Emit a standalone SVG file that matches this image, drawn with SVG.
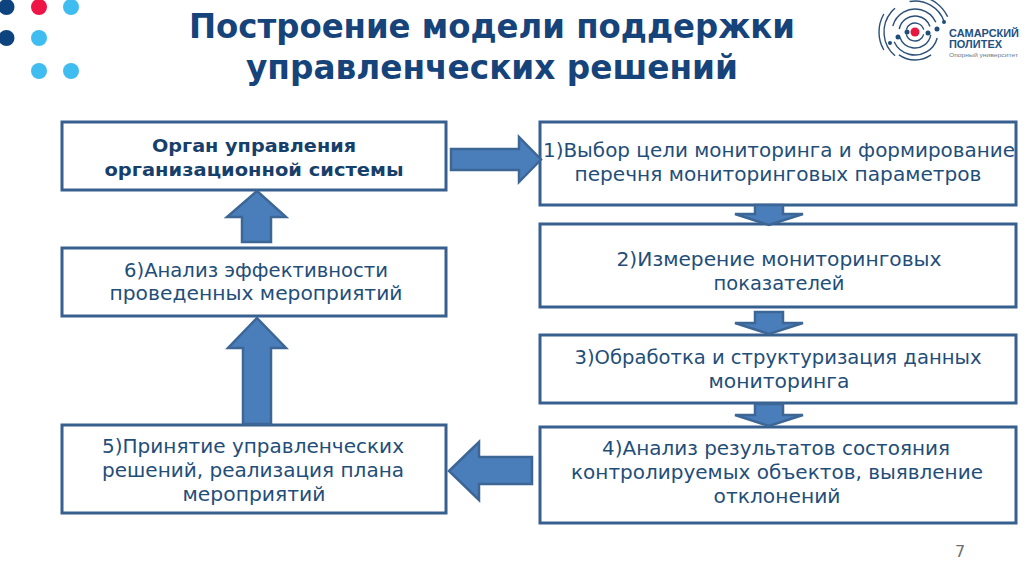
<svg xmlns="http://www.w3.org/2000/svg" width="1024" height="574" viewBox="0 0 1024 574">
<style>
text{font-family:"DejaVu Sans","Noto Sans",sans-serif;text-anchor:middle}
.t{font-size:34px;font-weight:700;fill:#15437a}
.l{font-size:19px;fill:#1f4e79}
.b{font-size:18.5px;font-weight:700;fill:#173f6b}
.box{fill:#fff;stroke:#37608f;stroke-width:3}
.arr{fill:#4a7ebb;stroke:#3c6695;stroke-width:2.5;stroke-linejoin:miter}
.arc{fill:none;stroke:#2c4f78;stroke-width:1.4}
.lg{font-family:"Liberation Sans",sans-serif;font-size:10px;font-weight:700;fill:#24507f;text-anchor:start}
</style>
<rect width="1024" height="574" fill="#fff"/>
<g id="decor">
<circle cx="6.500" cy="7" r="8" fill="#0d437f"/><circle cx="39" cy="7" r="8" fill="#ee1546"/><circle cx="71" cy="7" r="8" fill="#3fbdf1"/>
<circle cx="6.500" cy="38" r="8" fill="#0d437f"/><circle cx="39" cy="38" r="8" fill="#3fbdf1"/>
<circle cx="39" cy="71" r="8" fill="#3fbdf1"/><circle cx="71" cy="71" r="8" fill="#3fbdf1"/>
</g>
<g id="title">
<text class="t" x="492" y="38" textLength="606" lengthAdjust="spacingAndGlyphs">Построение модели поддержки</text>
<text class="t" x="492" y="79" textLength="492" lengthAdjust="spacingAndGlyphs">управленческих решений</text>
</g>
<g id="logo">
<g transform="translate(915 32)">
<circle class="arc" r="9" pathLength="360" stroke-dasharray="150 30" transform="rotate(15)"/>
<circle class="arc" r="16" pathLength="360" stroke-dasharray="150 30" transform="rotate(10)"/>
<circle class="arc" r="23" pathLength="360" stroke-dasharray="140 40" transform="rotate(15)"/>
<circle class="arc" r="31" pathLength="360" stroke-dasharray="80 280" transform="rotate(-100)"/>
<circle class="arc" r="31" pathLength="360" stroke-dasharray="100 260" transform="rotate(-230)"/>
<circle class="arc" r="28" pathLength="360" stroke-dasharray="70 290" transform="rotate(55)"/>
<circle class="arc" r="36" pathLength="360" stroke-dasharray="55 305" transform="rotate(-80)"/>
<circle class="arc" r="36" pathLength="360" stroke-dasharray="60 300" transform="rotate(-210)"/>
</g>
<circle cx="915" cy="32" r="4.500" fill="#e8173f"/>
<circle cx="907" cy="32" r="2.500" fill="#1f4e79"/><circle cx="928" cy="33" r="2.500" fill="#1f4e79"/>
<circle cx="898" cy="37" r="2.500" fill="#1f4e79"/><circle cx="937" cy="29" r="2.500" fill="#1f4e79"/>
<circle cx="890" cy="43" r="2" fill="#1f4e79"/><circle cx="944" cy="22" r="2" fill="#1f4e79"/>
<text class="lg" x="949" y="37" textLength="70" lengthAdjust="spacingAndGlyphs">САМАРСКИЙ</text>
<text class="lg" x="949" y="48" textLength="53" lengthAdjust="spacingAndGlyphs">ПОЛИТЕХ</text>
<text x="949" y="57" style="font-family:'Liberation Sans',sans-serif;font-size:5.500px;fill:#6b7c8c;text-anchor:start" textLength="69" lengthAdjust="spacingAndGlyphs">Опорный университет</text>
</g>
<g id="n0"><rect class="box" x="62" y="122" width="384" height="68"/>
<text class="b" x="254" y="152" textLength="204" lengthAdjust="spacingAndGlyphs">Орган управления</text>
<text class="b" x="254" y="176" textLength="299" lengthAdjust="spacingAndGlyphs">организационной системы</text></g>
<g id="n1"><rect class="box" x="540" y="122" width="476" height="83"/>
<text class="l" x="779" y="157" textLength="472" lengthAdjust="spacingAndGlyphs">1)Выбор цели мониторинга и формирование</text>
<text class="l" x="778" y="181" textLength="407" lengthAdjust="spacingAndGlyphs">перечня мониторинговых параметров</text></g>
<g id="n2"><rect class="box" x="540" y="224" width="476" height="83"/>
<text class="l" x="779" y="266" textLength="325" lengthAdjust="spacingAndGlyphs">2)Измерение мониторинговых</text>
<text class="l" x="779" y="290" textLength="131" lengthAdjust="spacingAndGlyphs">показателей</text></g>
<g id="n3"><rect class="box" x="540" y="335" width="476" height="68"/>
<text class="l" x="778" y="364" textLength="407" lengthAdjust="spacingAndGlyphs">3)Обработка и структуризация данных</text>
<text class="l" x="779" y="388" textLength="141" lengthAdjust="spacingAndGlyphs">мониторинга</text></g>
<g id="n4"><rect class="box" x="540" y="427" width="476" height="96"/>
<text class="l" x="776" y="455" textLength="348" lengthAdjust="spacingAndGlyphs">4)Анализ результатов состояния</text>
<text class="l" x="777" y="479" textLength="412" lengthAdjust="spacingAndGlyphs">контролируемых объектов, выявление</text>
<text class="l" x="777" y="503" textLength="127" lengthAdjust="spacingAndGlyphs">отклонений</text></g>
<g id="n5"><rect class="box" x="62" y="425" width="384" height="88"/>
<text class="l" x="253" y="453" textLength="302" lengthAdjust="spacingAndGlyphs">5)Принятие управленческих</text>
<text class="l" x="253" y="477" textLength="302" lengthAdjust="spacingAndGlyphs">решений, реализация плана</text>
<text class="l" x="254" y="501" textLength="143" lengthAdjust="spacingAndGlyphs">мероприятий</text></g>
<g id="n6"><rect class="box" x="62" y="248" width="384" height="68"/>
<text class="l" x="256" y="277" textLength="264" lengthAdjust="spacingAndGlyphs">6)Анализ эффективности</text>
<text class="l" x="256" y="300" textLength="293" lengthAdjust="spacingAndGlyphs">проведенных мероприятий</text></g>
<g id="connectors">
<path class="arr" d="M451 149H519V137L541 159.500L519 182V170H451Z"/>
<path class="arr" d="M257 191L286 217H271V242H242V217H227Z"/>
<path class="arr" d="M257 318L286 348H271V424H243V348H228Z"/>
<path class="arr" d="M449 471L479 442V457H532V484H479V500Z"/>
<path class="arr" d="M755 205H783V214H803L769 225L735 214H755Z"/>
<path class="arr" d="M755 312H783V323H803L769 334L735 323H755Z"/>
<path class="arr" d="M755 404H783V415H803L769 426L735 415H755Z"/>
</g>
<text x="960" y="557" style="font-family:'DejaVu Sans',sans-serif;font-size:16px;fill:#6f6f6f">7</text>
</svg>
